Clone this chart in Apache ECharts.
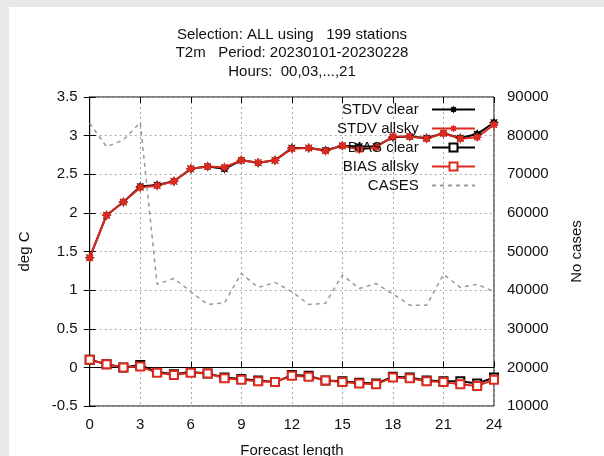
<!DOCTYPE html>
<html>
<head>
<meta charset="utf-8">
<script src="https://cdn.jsdelivr.net/npm/echarts@6/dist/echarts.min.js"></script>
<style>
html,body{margin:0;padding:0;background:#fff;}
#c{width:604px;height:456px;}
</style>
</head>
<body>
<div id="c"></div>
<script>
const hours = [0,1,2,3,4,5,6,7,8,9,10,11,12,13,14,15,16,17,18,19,20,21,22,23,24];
const stdvClear  = [1.42,1.97,2.14,2.34,2.36,2.41,2.57,2.60,2.57,2.68,2.65,2.68,2.84,2.84,2.81,2.87,2.86,2.86,2.98,2.99,2.97,3.03,2.97,3.02,3.17];
const stdvAllsky = [1.42,1.97,2.14,2.33,2.35,2.41,2.57,2.60,2.59,2.68,2.65,2.68,2.83,2.84,2.80,2.87,2.82,2.85,2.99,2.99,2.96,3.03,2.96,2.98,3.14];
const biasClear  = [0.10,0.04,0.00,0.03,-0.06,-0.09,-0.06,-0.08,-0.13,-0.15,-0.17,-0.19,-0.10,-0.11,-0.17,-0.18,-0.20,-0.21,-0.12,-0.13,-0.17,-0.18,-0.18,-0.21,-0.13];
const biasAllsky = [0.10,0.04,0.00,0.01,-0.07,-0.10,-0.07,-0.08,-0.14,-0.16,-0.18,-0.19,-0.11,-0.12,-0.17,-0.19,-0.21,-0.22,-0.13,-0.14,-0.18,-0.19,-0.22,-0.24,-0.16];
const cases = [83200,77100,78900,83400,41500,43000,39600,36300,36700,44300,40700,42000,39600,36300,36600,43900,40400,41700,39000,36100,36100,44100,40700,41500,39600];
const titleLines = ['Selection: ALL using   199 stations','T2m   Period: 20230101-20230228','Hours:  00,03,...,21'];
const xAxisName = 'Forecast length';
const seriesNames = ['STDV clear','STDV allsky','BIAS clear','BIAS allsky','CASES'];

// 8-pointed asterisk-like star symbol
function starPath(){
  let p = '';
  for (let k = 0; k < 16; k++) {
    const a = k * Math.PI / 8;
    const r = (k % 2 === 0) ? 10 : 6;
    const x = (10 + r * Math.cos(a)).toFixed(2), y = (10 + r * Math.sin(a)).toFixed(2);
    p += (k === 0 ? 'M' : 'L') + x + ' ' + y + ' ';
  }
  return 'path://' + p + 'Z';
}
const STAR = starPath();
const RED = '#dc2a1e';
const pairs = arr => hours.map((h, i) => [h, arr[i]]);
const FONT = 'Liberation Sans, Arial, sans-serif';

const chart = echarts.init(document.getElementById('c'), null, {renderer:'canvas'});
chart.setOption({
  animation: false,
  backgroundColor: '#fff',
  textStyle: {fontFamily: FONT},
  graphic: [
    {type:'rect', z:-10, silent:true, shape:{x:0,y:0,width:604,height:7}, style:{fill:'#e8e8e8'}},
    {type:'rect', z:-10, silent:true, shape:{x:0,y:0,width:9,height:456}, style:{fill:'#e8e8e8'}},
    {type:'text', x:292, y:25.5, style:{text: titleLines.join('\n'), align:'center', verticalAlign:'top', font:'15px ' + FONT, lineHeight:18.5, fill:'#111'}},
    {type:'text', x:292, y:443, style:{text: xAxisName, align:'center', verticalAlign:'top', font:'15px ' + FONT, fill:'#111'}}
  ],
  grid: {left: 89.7, right: 110, top: 97, bottom: 50, containLabel:false, outerBoundsMode:'none', show: true, borderColor:'#000', borderWidth:1, backgroundColor:'transparent'},
  legend: {
    orient:'vertical', align:'right', right:128, top:102, padding:0,
    itemWidth:43, itemHeight:10, itemGap:4,
    textStyle:{fontSize:15, color:'#111', fontFamily: FONT},
    formatter: n => n + '  ',
    data: ['STDV clear','STDV allsky','BIAS clear','BIAS allsky',{name:'CASES', itemStyle:{opacity:0}}]
  },
  xAxis: [{
    type:'value', min:0, max:24, interval:3,
    axisLine:{show:true, lineStyle:{color:'#000'}},
    axisTick:{show:true, inside:true, length:6, lineStyle:{color:'#000'}},
    axisLabel:{fontSize:15, color:'#111', margin:11},
    splitLine:{show:true, lineStyle:{color:'#aaa', type:[2,3], width:1}}
  },{
    type:'value', position:'top', min:0, max:24, interval:3,
    axisLine:{show:false}, axisTick:{show:true, inside:true, length:6, lineStyle:{color:'#000'}},
    axisLabel:{show:false}, splitLine:{show:false}
  }],
  yAxis: [{
    type:'value', min:-0.5, max:3.5, interval:0.5,
    name:'deg C', nameLocation:'middle', nameRotate:90, nameGap:57, nameMoveOverlap:false,
    nameTextStyle:{fontSize:15, color:'#111'},
    axisLine:{show:true, lineStyle:{color:'#000'}},
    axisTick:{show:true, inside:true, length:6, lineStyle:{color:'#000'}},
    axisLabel:{fontSize:15, color:'#111', margin:12},
    splitLine:{show:true, lineStyle:{color:'#aaa', type:[2,3], width:1}}
  },{
    type:'value', min:10000, max:90000, interval:10000, position:'right',
    name:'No cases', nameLocation:'middle', nameRotate:90, nameGap:75, nameMoveOverlap:false,
    nameTextStyle:{fontSize:15, color:'#111'},
    axisLine:{show:true, lineStyle:{color:'#000'}},
    axisTick:{show:true, inside:true, length:6, lineStyle:{color:'#000'}},
    axisLabel:{fontSize:15, color:'#111', margin:13, formatter: v => String(v)},
    splitLine:{show:false}
  }],
  series: [
    {name:'STDV clear', type:'line', data:pairs(stdvClear), symbol:STAR, symbolSize:10, color:'#000', lineStyle:{width:2, color:'#000'}, itemStyle:{color:'#000'}},
    {name:'STDV allsky', type:'line', data:pairs(stdvAllsky), symbol:STAR, symbolSize:10, color:RED, lineStyle:{width:2, color:RED}, itemStyle:{color:RED}},
    {name:'BIAS clear', type:'line', data:pairs(biasClear), symbol:'emptyRect', symbolSize:8, color:'#000', lineStyle:{width:2, color:'#000'}, itemStyle:{color:'#000', borderColor:'#000', borderWidth:1.5}},
    {name:'BIAS allsky', type:'line', data:pairs(biasAllsky), symbol:'emptyRect', symbolSize:8, color:RED, lineStyle:{width:2, color:RED}, itemStyle:{color:RED, borderColor:RED, borderWidth:1.5}},
    {name:'CASES', type:'line', yAxisIndex:1, data:pairs(cases), symbol:'none', color:'#999', lineStyle:{width:1.5, color:'#999', type:[4,4]}}
  ]
});
</script>
</body>
</html>
